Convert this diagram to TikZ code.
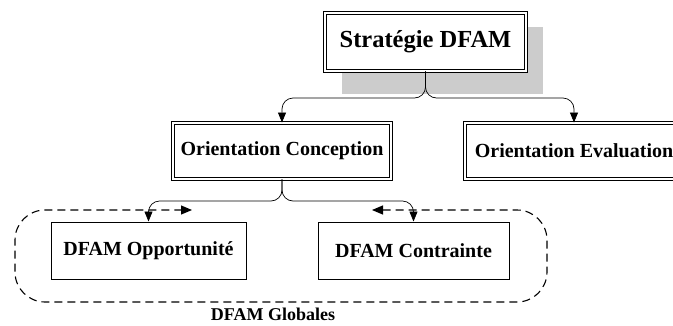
\documentclass[tikz,border=0pt]{standalone}
\usepackage{fontspec}
\setmainfont{Liberation Serif}
\usetikzlibrary{arrows.meta}
\begin{document}
\begin{tikzpicture}[x=1pt,y=-1pt,
  dbox/.style={draw, line width=0.9pt, double=white, double distance=1.6pt, fill=white, inner sep=0pt, font=\bfseries\fontsize{20}{22}\selectfont},
  sbox/.style={draw, line width=1pt, fill=white, inner sep=0pt, font=\bfseries\fontsize{20}{22}\selectfont},
  conn/.style={line width=0.7pt, rounded corners=11pt, -{Triangle[length=10pt,width=8pt]}},
  group/.style={line width=1.1pt, dash pattern=on 8pt off 5pt, rounded corners=30pt, {Triangle[length=11pt,width=9pt]}-{Triangle[length=11pt,width=9pt]}}
]
\useasboundingbox (0,0) rectangle (673,325);
% shadow
\fill[gray!40] (342,27) rectangle (543,94);
\node[dbox, minimum width=201pt, minimum height=58pt, font=\bfseries\fontsize{24.5}{26}\selectfont] (S) at (425.5,42) {Stratégie DFAM};
\node[dbox, minimum width=218pt, minimum height=56pt] (OC) at (282,151) {Orientation Conception};
\node[dbox, minimum width=218pt, minimum height=56pt] (OE) at (574,151) {Orientation Evaluation};
\node[sbox, minimum width=195pt, minimum height=57pt] (DO) at (148.5,250.5) {DFAM Opportunité};
\node[sbox, minimum width=191pt, minimum height=57pt] (DC) at (413.5,250.5) {DFAM Contrainte};
% group outline
\coordinate (GR) at (372,210);
\coordinate (GL) at (192,210);
\draw[group] (GR) -- (547,210) -- (547,302) -- (15,302) -- (15,210) -- (GL);
\node[font=\bfseries\fontsize{18}{20}\selectfont] (G) at (273,314) {DFAM Globales};
% connectors
\draw[conn] (S.south) -- (425.5,98) -| (OC.north);
\draw[conn] (S.south) -- (425.5,98) -| (OE.north);
\draw[conn] (OC.south) -- (282,201) -| (DO.north);
\draw[conn] (OC.south) -- (282,201) -| (DC.north);
\end{tikzpicture}
\end{document}
